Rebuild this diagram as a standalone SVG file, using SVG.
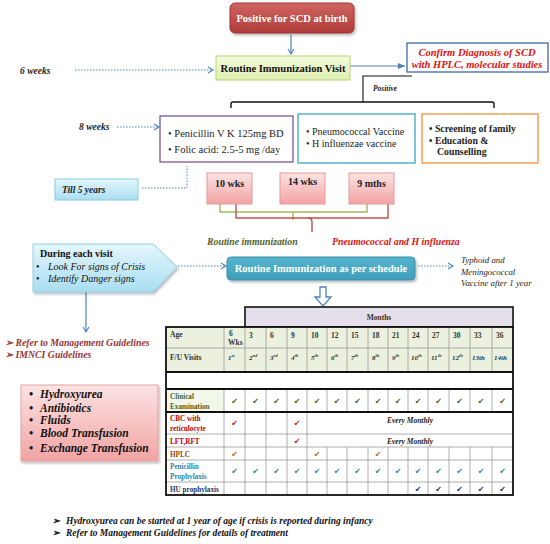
<svg xmlns="http://www.w3.org/2000/svg" width="550" height="544" viewBox="0 0 550 544">
<defs>
<linearGradient id="gRed" x1="0" y1="0" x2="0" y2="1"><stop offset="0" stop-color="#cf6461"/><stop offset="1" stop-color="#b03d3a"/></linearGradient>
<linearGradient id="gGreen" x1="0" y1="0" x2="0" y2="1"><stop offset="0" stop-color="#f4fadc"/><stop offset="1" stop-color="#dff0b2"/></linearGradient>
<linearGradient id="gPink" x1="0" y1="0" x2="0" y2="1"><stop offset="0" stop-color="#fce3e3"/><stop offset="1" stop-color="#f2a3a3"/></linearGradient>
<linearGradient id="gCyan" x1="0" y1="0" x2="0" y2="1"><stop offset="0" stop-color="#e4f6fc"/><stop offset="1" stop-color="#a9def1"/></linearGradient>
<linearGradient id="gTeal" x1="0" y1="0" x2="0" y2="1"><stop offset="0" stop-color="#56b4cd"/><stop offset="1" stop-color="#3e9fba"/></linearGradient>
<filter id="sh" x="-10%" y="-10%" width="130%" height="140%"><feDropShadow dx="1.5" dy="2" stdDeviation="1.2" flood-color="#000" flood-opacity="0.25"/></filter>
<marker id="ah" markerWidth="8" markerHeight="8" refX="6" refY="4" orient="auto" markerUnits="userSpaceOnUse"><path d="M1,1 L6,4 L1,7" fill="none" stroke="#4f81bd" stroke-width="1.1"/></marker>
<marker id="ahs" markerWidth="8" markerHeight="8" refX="7" refY="4" orient="auto" markerUnits="userSpaceOnUse"><path d="M0,1 L7,4 L0,7 z" fill="#4f81bd"/></marker>
</defs>
<style>
.s{font-family:"Liberation Serif","Times New Roman",serif}
.b{font-weight:bold}
.i{font-style:italic}
.ck{font-family:"DejaVu Sans",sans-serif;font-size:8px;text-anchor:middle}
.dot{fill:none;stroke:#4f81bd;stroke-width:1;stroke-dasharray:1.5,1.5}
.sol{fill:none;stroke:#4f81bd;stroke-width:1.2}
.th{stroke:#9a9a9a;stroke-width:0.8;fill:none}
.tk{stroke:#111;stroke-width:1.8;fill:none}
.hd{font-family:"Liberation Serif",serif;font-weight:bold;font-size:7.5px;fill:#333}
.fu{font-family:"Liberation Serif",serif;font-weight:bold;font-style:italic;font-size:7px;fill:#333}
.lb{font-family:"Liberation Serif",serif;font-weight:bold;font-size:7.2px}
</style>
<rect width="550" height="544" fill="#fff"/>

<g id="connectors">
<line class="sol" x1="291" y1="35" x2="291" y2="54" marker-end="url(#ah)"/>
<line class="dot" x1="75" y1="70" x2="213" y2="70" marker-end="url(#ah)"/>
<line class="sol" x1="350" y1="66" x2="405" y2="66" marker-end="url(#ahs)"/>
<polyline points="412,76 363,76 363,102" fill="none" stroke="#111" stroke-width="1.1"/>
<path d="M231,108 L231,104 Q231,102 233,102 L492,102 Q494,102 494,104 L494,108" fill="none" stroke="#111" stroke-width="1.4"/>
<line class="dot" x1="117" y1="127" x2="159" y2="127" marker-end="url(#ah)"/>
<polyline class="dot" points="142,188 187,188 187,166"/>
<polyline points="220,204 220,212 367,212 367,204" fill="none" stroke="#9bbb59" stroke-width="1.4"/>
<line x1="293" y1="212" x2="293" y2="220" stroke="#9bbb59" stroke-width="1.4"/>
<polyline points="236,204 236,218 388,218 388,204" fill="none" stroke="#c0504d" stroke-width="1.4"/>
<path d="M308,218 Q312,218 312,222 L312,232" fill="none" stroke="#c0504d" stroke-width="1.4"/>
<line class="dot" x1="178" y1="266" x2="226" y2="266" marker-end="url(#ah)"/>
<line class="dot" x1="418" y1="266" x2="453" y2="266" marker-end="url(#ah)"/>
<line class="sol" x1="86" y1="292" x2="86" y2="332" marker-end="url(#ah)"/>
<path d="M320,287 L326,287 L326,297 L331,297 L323,306 L315,297 L320,297 Z" fill="#fff" stroke="#4f81bd" stroke-width="1.3"/>
</g>

<g id="n_positive">
<rect x="230" y="3" width="124" height="30" rx="5" fill="url(#gRed)" stroke="#9e3532" stroke-width="1" filter="url(#sh)"/>
<text class="s b" x="292" y="22" font-size="10.5" fill="#fff" text-anchor="middle">Positive for SCD at birth</text>
</g>

<g id="n_6weeks"><text class="s b i" x="20" y="74" font-size="9.5" fill="#222">6 weeks</text></g>

<g id="n_visit">
<rect x="216" y="56" width="134" height="24" fill="url(#gGreen)" stroke="#b7d37a" stroke-width="1"/>
<text class="s b" x="283" y="71.5" font-size="10.5" fill="#111" text-anchor="middle">Routine Immunization Visit</text>
</g>

<g id="n_confirm">
<rect x="407" y="43" width="141" height="29" fill="#fff" stroke="#2e5c9a" stroke-width="1.2"/>
<text class="s b i" x="477" y="55.5" font-size="10.5" fill="#e01010" text-anchor="middle">Confirm Diagnosis of SCD</text>
<text class="s b i" x="477" y="68" font-size="10.5" fill="#e01010" text-anchor="middle">with HPLC, molecular studies</text>
</g>

<g id="n_positive_lbl"><text class="s b i" x="373" y="91" font-size="7.5" fill="#222">Positive</text></g>

<g id="n_8weeks"><text class="s b i" x="79" y="130" font-size="9.5" fill="#222">8 weeks</text></g>

<g id="n_penicillin">
<rect x="160" y="116" width="133" height="46" fill="#fff" stroke="#8064a2" stroke-width="1.4"/>
<text class="s" x="168" y="137" font-size="10.5" fill="#222">• Penicillin V K 125mg BD</text>
<text class="s" x="168" y="153" font-size="10.5" fill="#222">• Folic acid:  2.5-5 mg /day</text>
</g>

<g id="n_pneumo">
<rect x="298" y="114" width="117" height="49" fill="#fff" stroke="#4bacc6" stroke-width="1.4"/>
<text class="s" x="306" y="135" font-size="10" fill="#222">• Pneumococcal Vaccine</text>
<text class="s" x="306" y="147" font-size="10" fill="#222">• H influenzae vaccine</text>
</g>

<g id="n_screening">
<rect x="422" y="114" width="116" height="49" fill="#fff" stroke="#f79646" stroke-width="1.4"/>
<text class="s b" x="429" y="132" font-size="9.8" fill="#222">• Screening of family</text>
<text class="s b" x="429" y="144" font-size="9.8" fill="#222">• Education &amp;</text>
<text class="s b" x="437" y="155" font-size="9.8" fill="#222">Counselling</text>
</g>

<g id="n_till5">
<rect x="55" y="179" width="83" height="21" fill="url(#gCyan)" stroke="#86cbe2" stroke-width="1"/>
<text class="s b i" x="62" y="193" font-size="9.5" fill="#222">Till 5 years</text>
</g>

<g id="n_10wks">
<rect x="207" y="173" width="45" height="31" fill="url(#gPink)" stroke="#e59a9a" stroke-width="1"/>
<text class="s b" x="229.5" y="187" font-size="10" fill="#222" text-anchor="middle">10 wks</text>
</g>
<g id="n_14wks">
<rect x="280" y="173" width="45" height="31" fill="url(#gPink)" stroke="#e59a9a" stroke-width="1"/>
<text class="s b" x="302.5" y="185" font-size="10" fill="#222" text-anchor="middle">14 wks</text>
</g>
<g id="n_9mths">
<rect x="349" y="173" width="45" height="31" fill="url(#gPink)" stroke="#e59a9a" stroke-width="1"/>
<text class="s b" x="371.5" y="187" font-size="10" fill="#222" text-anchor="middle">9 mths</text>
</g>

<g id="n_routine_lbl"><text class="s b i" x="207" y="245" font-size="9.8" fill="#4f6228">Routine immunization</text></g>
<g id="n_pneumo_lbl"><text class="s b i" x="332" y="245" font-size="9.8" fill="#e01010">Pneumococcal and H influenza</text></g>

<g id="n_during">
<path d="M33,244 L153,244 L177,267 L153,292 L33,292 Z" fill="url(#gCyan)" stroke="#8fd0e6" stroke-width="1" filter="url(#sh)"/>
<text class="s b" x="40" y="257" font-size="10" fill="#111">During each visit</text>
<text class="s" x="36" y="270" font-size="10" fill="#111">•</text>
<text class="s i" x="48" y="270" font-size="10" fill="#111">Look For signs of Crisis</text>
<text class="s" x="36" y="282" font-size="10" fill="#111">•</text>
<text class="s i" x="48" y="282" font-size="10" fill="#111">Identify Danger signs</text>
</g>

<g id="n_schedule">
<rect x="227" y="257" width="188" height="23" rx="4" fill="url(#gTeal)" stroke="#3a8fa8" stroke-width="1" filter="url(#sh)"/>
<text class="s b" x="321" y="272" font-size="10.5" fill="#fff" text-anchor="middle">Routine Immunization as per schedule</text>
</g>

<g id="n_typhoid">
<text class="s i" x="461" y="263" font-size="8.8" fill="#222">Typhoid and</text>
<text class="s i" x="461" y="274.5" font-size="8.8" fill="#222">Meningococcal</text>
<text class="s i" x="461" y="286" font-size="8.8" fill="#222">Vaccine after 1 year</text>
</g>

<g id="n_refer">
<text class="s b i" x="5" y="346" font-size="9.8" fill="#943634">➢ Refer to Management Guidelines</text>
<text class="s b i" x="5" y="358" font-size="9.8" fill="#943634">➢ IMNCI Guidelines</text>
</g>

<g id="n_treatment">
<rect x="21" y="385" width="137" height="76" fill="url(#gPink)" stroke="#e6a3a3" stroke-width="1" filter="url(#sh)"/>
<g class="s b i" font-size="11.5" fill="#111">
<text x="29" y="398">•</text><text x="40" y="398">Hydroxyurea</text>
<text x="29" y="412">•</text><text x="40" y="412">Antibiotics</text>
<text x="29" y="424">•</text><text x="40" y="424">Fluids</text>
<text x="29" y="437">•</text><text x="40" y="437">Blood Transfusion</text>
<text x="29" y="452">•</text><text x="40" y="452">Exchange Transfusion</text>
</g>
</g>

<g id="n_table">
<rect x="245" y="307" width="268" height="20" fill="#e5dfec" stroke="#111" stroke-width="1.6"/>
<text class="hd" x="379" y="320" text-anchor="middle">Months</text>
<rect x="166" y="327" width="347" height="45" fill="#ebf1de"/>
<rect x="166" y="389" width="58" height="23" fill="#f3f7ea"/>
<line class="th" x1="166" y1="348" x2="513" y2="348"/>
<line class="th" x1="166" y1="434" x2="513" y2="434"/>
<line class="th" x1="166" y1="447" x2="513" y2="447"/>
<line class="th" x1="166" y1="460" x2="513" y2="460"/>
<line class="th" x1="166" y1="482" x2="513" y2="482"/>
<g class="th">
<path d="M224,327V372 M245,327V372 M266,327V372 M287,327V372 M307,327V372 M327,327V372 M347,327V372 M368,327V372 M388,327V372 M408,327V372 M428,327V372 M449,327V372 M470,327V372 M492,327V372"/>
<path d="M224,389V495 M245,389V495 M266,389V495 M287,389V495"/>
<path d="M307,389V412 M327,389V412 M347,389V412 M368,389V412 M388,389V412 M408,389V412 M428,389V412 M449,389V412 M470,389V412 M492,389V412"/>
<path d="M307,412V447"/>
<path d="M307,447V495 M327,447V495 M347,447V495 M368,447V495 M388,447V495 M408,447V495 M428,447V495 M449,447V495 M470,447V495 M492,447V495"/>
</g>
<line class="tk" x1="166" y1="372" x2="513" y2="372"/>
<line class="tk" x1="166" y1="389" x2="513" y2="389"/>
<line class="tk" x1="166" y1="412" x2="513" y2="412"/>
<rect class="tk" x="166" y="327" width="347" height="168"/>

<text class="hd" x="170" y="337">Age</text>
<text class="hd" x="229" y="336">6</text>
<text class="hd" x="228" y="344.5" font-size="4.5">Wks</text>
<g class="hd">
<text x="249" y="338">3</text><text x="270" y="338">6</text><text x="291" y="338">9</text><text x="311" y="338">10</text>
<text x="331" y="338">12</text><text x="351" y="338">15</text><text x="372" y="338">18</text><text x="392" y="338">21</text>
<text x="412" y="338">24</text><text x="432" y="338">27</text><text x="453" y="338">30</text><text x="474" y="338">33</text><text x="496" y="338">36</text>
</g>
<text class="hd" x="170" y="360">F/U Visits</text>
<g class="fu">
<text x="228" y="360">1<tspan font-size="4.5" dy="-3">st</tspan></text>
<text x="249" y="360">2<tspan font-size="4.5" dy="-3">nd</tspan></text>
<text x="270" y="360">3<tspan font-size="4.5" dy="-3">rd</tspan></text>
<text x="291" y="360">4<tspan font-size="4.5" dy="-3">th</tspan></text>
<text x="311" y="360">5<tspan font-size="4.5" dy="-3">th</tspan></text>
<text x="331" y="360">6<tspan font-size="4.5" dy="-3">th</tspan></text>
<text x="351" y="360">7<tspan font-size="4.5" dy="-3">th</tspan></text>
<text x="372" y="360">8<tspan font-size="4.5" dy="-3">th</tspan></text>
<text x="392" y="360">9<tspan font-size="4.5" dy="-3">th</tspan></text>
<text x="411" y="360">10<tspan font-size="4.5" dy="-3">th</tspan></text>
<text x="431" y="360">11<tspan font-size="4.5" dy="-3">th</tspan></text>
<text x="452" y="360">12<tspan font-size="4.5" dy="-3">th</tspan></text>
<text x="472" y="360">13th</text>
<text x="494" y="360">14th</text>
</g>

<text class="lb" x="170" y="399" fill="#4f6228">Clinical</text>
<text class="lb" x="170" y="409" fill="#4f6228">Examination</text>
<text class="lb" x="170" y="421" fill="#c00000">CBC with</text>
<text class="lb" x="170" y="431" fill="#c00000">reticulocyte</text>
<text class="lb" x="170" y="444" fill="#c00000">LFT,RFT</text>
<text class="lb" x="170" y="457" fill="#984806">HPLC</text>
<text class="lb" x="170" y="469" fill="#31859c">Penicillin</text>
<text class="lb" x="170" y="479" fill="#31859c">Prophylaxis</text>
<text class="lb" x="170" y="492" fill="#1f3864" font-size="6.6">HU prophylaxis</text>

<g class="ck" fill="#4f6228">
<text x="234.5" y="404">✔</text><text x="255.5" y="404">✔</text><text x="276.5" y="404">✔</text><text x="297" y="404">✔</text>
<text x="317" y="404">✔</text><text x="337" y="404">✔</text><text x="357.5" y="404">✔</text><text x="378" y="404">✔</text>
<text x="398" y="404">✔</text><text x="418" y="404">✔</text><text x="438.5" y="404">✔</text><text x="459.5" y="404">✔</text>
<text x="481" y="404">✔</text><text x="502.5" y="404">✔</text>
</g>
<g class="ck" fill="#d01010">
<text x="234.5" y="426">✔</text><text x="297" y="426">✔</text>
<text x="297" y="444">✔</text>
</g>
<text class="s b i" x="410" y="423" font-size="7.5" fill="#222" text-anchor="middle">Every Monthly</text>
<text class="s b i" x="410" y="444" font-size="7.5" fill="#222" text-anchor="middle">Every Monthly</text>
<g class="ck" fill="#c0631f">
<text x="234.5" y="457">✔</text><text x="317" y="457">✔</text><text x="378" y="457">✔</text>
</g>
<g class="ck" fill="#31859c">
<text x="234.5" y="474">✔</text><text x="255.5" y="474">✔</text><text x="276.5" y="474">✔</text><text x="297" y="474">✔</text>
<text x="317" y="474">✔</text><text x="337" y="474">✔</text><text x="357.5" y="474">✔</text><text x="378" y="474">✔</text>
<text x="398" y="474">✔</text><text x="418" y="474">✔</text><text x="438.5" y="474">✔</text><text x="459.5" y="474">✔</text>
<text x="481" y="474">✔</text><text x="502.5" y="474">✔</text>
</g>
<g class="ck" fill="#1f3864">
<text x="418" y="492">✔</text><text x="438.5" y="492">✔</text><text x="459.5" y="492">✔</text><text x="481" y="492">✔</text><text x="502.5" y="492">✔</text>
</g>
</g>

<g id="n_notes">
<text class="s b i" x="52" y="524" font-size="9.5" fill="#111">➢<tspan x="66">Hydroxyurea can be started at 1 year of age if crisis is reported during infancy</tspan></text>
<text class="s b i" x="52" y="536" font-size="9.5" fill="#111">➢<tspan x="66">Refer to Management Guidelines for details of treatment</tspan></text>
</g>
</svg>
